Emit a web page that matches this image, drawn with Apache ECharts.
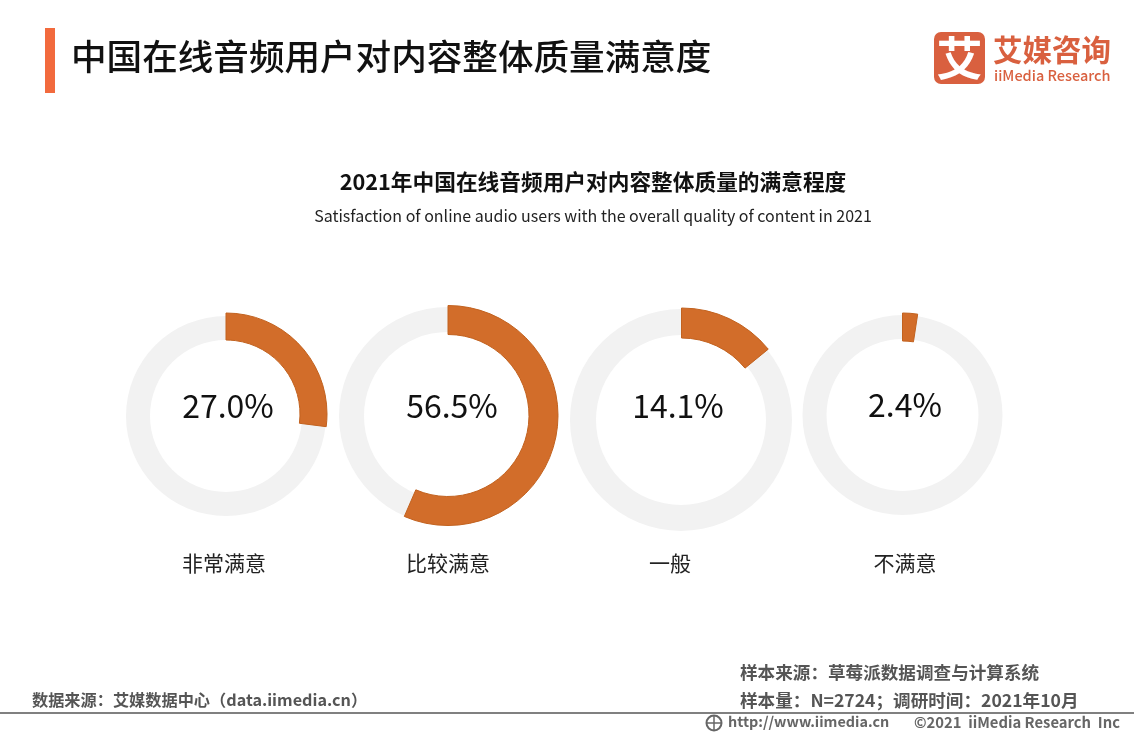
<!DOCTYPE html>
<html><head><meta charset="utf-8">
<style>html,body{margin:0;padding:0;background:#fff}#c{width:1134px;height:737px}</style>
<script src="https://cdn.jsdelivr.net/npm/echarts@6/dist/echarts.min.js"></script></head>
<body><div id="c"></div>
<script>
const categories = ['非常满意','比较满意','一般','不满意'];
const shares = [27.0,56.5,14.1,2.4];
const valueLabels = ['27.0%','56.5%','14.1%','2.4%'];
const CJK = '"Noto Sans CJK SC","Noto Sans",sans-serif';
const layout = [
 {tc:[226,416],tr:[76,100],oc:[226,414],or:[74,101],vl:[228,406],cl:[224,563]},
 {tc:[448,416],tr:[84,109],oc:[448,415.5],or:[81,110],vl:[452,406],cl:[448,563]},
 {tc:[681,420],tr:[85,111],oc:[681.5,420],or:[82,112],vl:[678,406],cl:[670,563]},
 {tc:[902.5,415],tr:[76,100],oc:[902.5,414],or:[73,101],vl:[905,405],cl:[905,563]}
];
const series=[];
categories.forEach((name,i)=>{
  const L=layout[i], v=shares[i];
  series.push({type:'pie',silent:true,center:L.tc,radius:L.tr,startAngle:90,label:{show:false},labelLine:{show:false},
    data:[{name:'track',value:100,itemStyle:{color:'#f2f2f2'}}]});
  series.push({type:'pie',silent:true,center:L.oc,radius:L.or,startAngle:90,label:{show:false},labelLine:{show:false},
    data:[{name:name,value:v,itemStyle:{color:'#d26d2a',borderColor:'#c2621f',borderWidth:1}},
          {name:'rest',value:100-v,itemStyle:{color:'transparent'}}]});
});
const T=(text,left,top,size,color,weight,align,family)=>({type:'text',x:left,y:top,
  style:{text:text,fontSize:size,fill:color,fontWeight:weight||'normal',textAlign:align||'left',textVerticalAlign:'middle',fontFamily:family||CJK}});
const graphics=[
 {type:'rect',shape:{x:45,y:28,width:10,height:65},style:{fill:'#f26a3d'}},
 T('中国在线音频用户对内容整体质量满意度',71,56,35.6,'#111','500'),
 T('2021年中国在线音频用户对内容整体质量的满意程度',593,182,21.7,'#111','700','center'),
 T('Satisfaction of online audio users with the overall quality of content in 2021',593,216,16,'#222','normal','center'),
 {type:'rect',shape:{x:934,y:32,width:51,height:52,r:7},style:{fill:'#d9603f'}},
 T('艾',959.5,58,46,'#fff','700','center'),
 T('艾媒咨询',993,50,29.5,'#d9603f','700'),
 T('iiMedia Research',994,75,14.5,'#d9603f','500'),
 T('样本来源：草莓派数据调查与计算系统',740,672,17.6,'#555','700'),
 T('样本量：N=2724；调研时间：2021年10月',740,700,17.6,'#555','700'),
 T('数据来源：艾媒数据中心（data.iimedia.cn）',32,700,16.2,'#555','700'),
 {type:'rect',shape:{x:0,y:712,width:1134,height:2},style:{fill:'#808080'}},
 {type:'circle',shape:{cx:714,cy:723,r:7.5},style:{fill:'none',stroke:'#666',lineWidth:2}},
 {type:'line',shape:{x1:706,y1:723,x2:722,y2:723},style:{stroke:'#666',lineWidth:1.5}},
 {type:'line',shape:{x1:714,y1:715,x2:714,y2:731},style:{stroke:'#666',lineWidth:1.5}},
 T('http://www.iimedia.cn',728,722,14.4,'#666','700'),
 T('©2021  iiMedia Research  Inc',914,722,14.8,'#666','700')
];
categories.forEach((name,i)=>{
  graphics.push(T(valueLabels[i],layout[i].vl[0],layout[i].vl[1],32,'#111','normal','center'));
  graphics.push(T(name,layout[i].cl[0],layout[i].cl[1],21,'#222','normal','center'));
});
const chart=echarts.init(document.getElementById('c'),null,{renderer:'canvas'});
chart.setOption({animation:false,backgroundColor:'#fff',series:series,graphic:graphics});
</script></body></html>
